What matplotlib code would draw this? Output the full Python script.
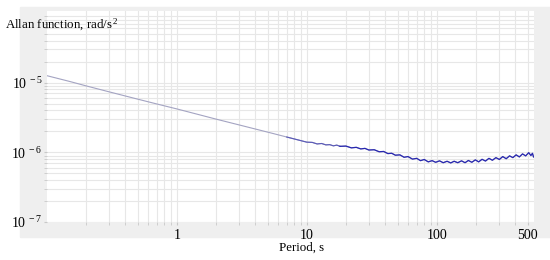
import numpy as np
import matplotlib
matplotlib.use("Agg")
import matplotlib.pyplot as plt
from matplotlib.patches import Rectangle
from matplotlib.ticker import FixedLocator, LogLocator, NullFormatter

# Allan function curve (period s, value in 1e-7 rad/s^2)
tau_smooth = [0.1, 0.15, 0.2, 0.3, 0.5, 0.7, 1, 1.5, 2, 3, 5, 7, 10]
allan_smooth = [126, 104, 90, 74, 58, 49.5, 42, 34.5, 30, 24.8, 19.5, 16.6, 14.0]

tau_noisy = [11, 12, 13, 14, 15, 16, 17, 18, 20, 22, 24, 26, 28, 30, 33, 36, 39,
             42, 45, 48, 52, 56, 60, 65, 70, 75, 80, 86, 92, 98, 105, 112, 120,
             128, 136, 145, 155, 165, 175, 186, 198, 210, 223, 237, 252, 268,
             285, 303, 322, 342, 363, 385, 408, 432, 457, 483, 510, 530, 545, 555]
allan_noisy = [13.9, 13.2, 13.4, 12.8, 12.9, 12.4, 12.7, 12.2, 12.3, 11.6, 11.8,
               11.2, 11.4, 10.8, 10.9, 10.2, 10.3, 9.6, 9.7, 9.1, 9.2, 8.5, 8.7,
               8.0, 8.2, 7.6, 7.9, 7.3, 7.6, 7.2, 7.55, 7.1, 7.45, 7.05, 7.45,
               7.1, 7.55, 7.1, 7.65, 7.2, 7.8, 7.3, 7.95, 7.5, 8.2, 7.7, 8.4, 7.9,
               8.7, 8.1, 8.9, 8.4, 9.2, 8.6, 9.5, 8.9, 9.9, 9.0, 9.7, 8.6]

x_ticks = [1, 10, 100, 500]
x_labels = ["1", "10", "100", "500"]
y_ticks = [1e-7, 1e-6, 1e-5]
y_labels = [r"$\mathregular{10^{\,-7}}$", r"$\mathregular{10^{\,-6}}$", r"$\mathregular{10^{\,-5}}$"]

plt.rcParams["font.family"] = ["Liberation Serif", "DejaVu Serif"]
plt.rcParams["mathtext.fontset"] = "custom"
plt.rcParams["mathtext.rm"] = "Liberation Serif"

tau = np.array(tau_smooth + tau_noisy, dtype=float)
allan = np.array(allan_smooth + allan_noisy) * 1e-7

fig = plt.figure(figsize=(5.5, 2.6), dpi=100, facecolor="white")
# grey panel behind the plot area
fig.patches.append(Rectangle((20 / 550, 1 - 237 / 260), 1.0, 230 / 260,
                             transform=fig.transFigure, color="#efefef", zorder=-10))
ax = fig.add_axes([47 / 550, 1 - 222 / 260, 487 / 550, 211 / 260], zorder=1)
ax.set_facecolor("white")
ax.set_xscale("log")
ax.set_yscale("log")
ax.set_xlim(0.1, 560)
ax.set_ylim(1e-7, 1.07e-4)

# light grey for the smooth start, blue where the estimate gets noisy
ax.plot(tau, allan, color="#a4a4c2", lw=0.8, zorder=3)
ax.plot(tau[(tau >= 7) & (tau < 20)], allan[(tau >= 7) & (tau < 20)],
        color="#5a5ab8", lw=0.8, zorder=4)
ax.plot(tau[tau >= 18], allan[tau >= 18], color="#2828b0", lw=0.9, zorder=4)

ax.xaxis.set_major_locator(FixedLocator(x_ticks))
ax.set_xticklabels(x_labels)
ax.xaxis.set_minor_locator(LogLocator(base=10, subs=np.arange(2, 10)))
ax.xaxis.set_minor_formatter(NullFormatter())
ax.yaxis.set_major_locator(FixedLocator(y_ticks))
ax.set_yticklabels(y_labels)
ax.yaxis.set_minor_locator(LogLocator(base=10, subs=np.arange(2, 10)))
ax.yaxis.set_minor_formatter(NullFormatter())

ax.grid(True, which="both", color="#e7e7e7", lw=0.8)
ax.tick_params(which="both", length=2, color="#c8c8c8", labelsize=10, pad=3)
ax.tick_params(axis="y", pad=1)
for s in ax.spines.values():
    s.set_visible(False)

fig.text(5 / 550, 1 - 25 / 260, r"Allan function, rad/s$\mathregular{^{\,2}}$",
         fontsize=9.3, va="center", ha="left")
fig.text(302 / 550, 1 - 248 / 260, "Period, s", fontsize=9.3, va="center", ha="center")

fig.savefig("out.png", dpi=100)
